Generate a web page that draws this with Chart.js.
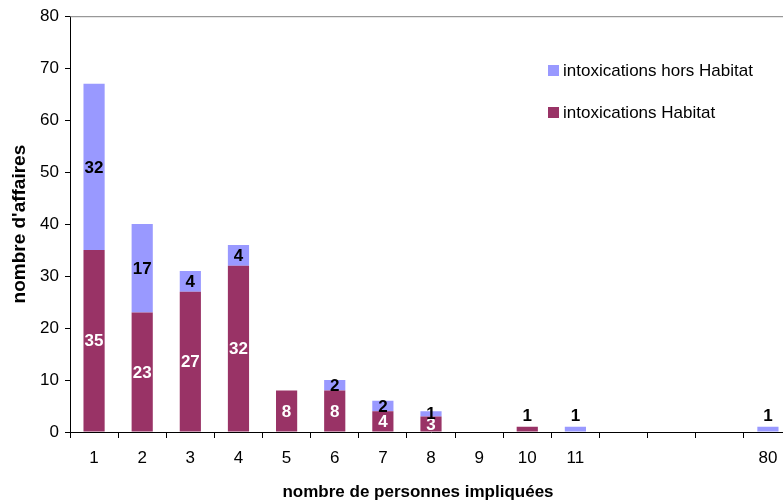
<!DOCTYPE html>
<html>
<head>
<meta charset="utf-8">
<script src="https://cdn.jsdelivr.net/npm/chart.js@4/dist/chart.umd.min.js"></script>
<style>
  html, body { margin: 0; padding: 0; background: #fff; overflow: hidden; }
  #wrap { width: 800px; height: 503px; position: relative; }
</style>
</head>
<body>
<div id="wrap"><canvas id="c"></canvas></div>
<script>
const categories = ['1', '2', '3', '4', '5', '6', '7', '8', '9', '10', '11', '', '', '', '80'];
const habitat = [35, 23, 27, 32, 8, 8, 4, 3, 0, 1, 0, 0, 0, 0, 0];
const horsHabitat = [32, 17, 4, 4, 0, 2, 2, 1, 0, 0, 1, 0, 0, 0, 1];
const yTicks = [0, 10, 20, 30, 40, 50, 60, 70, 80];
const xTitle = 'nombre de personnes impliquées';

const FONT = "'Liberation Sans', Arial, sans-serif";

// value labels + legend + x title + top border
const decorations = {
  id: 'decorations',
  afterDatasetsDraw(chart) {
    const ctx = chart.ctx;
    const zero = chart.scales.y.getPixelForValue(0);
    ctx.save();
    ctx.font = 'bold 17px ' + FONT;
    ctx.textAlign = 'center';
    ctx.textBaseline = 'middle';
    chart.data.datasets.forEach((ds, di) => {
      const meta = chart.getDatasetMeta(di);
      meta.data.forEach((bar, i) => {
        const v = ds.data[i];
        if (!v) return;
        const h = bar.base - bar.y;
        let y = (bar.y + bar.base) / 2;
        let color = ds.labelColor;
        if (h < 12) {
          y = Math.min(y, zero - 17);
          color = '#000';
        }
        ctx.fillStyle = color;
        ctx.fillText(String(v), bar.x, y + 1);
      });
    });

    // x axis title (sits a bit left of the plot centre in the original)
    ctx.fillStyle = '#000';
    ctx.font = 'bold 17px ' + FONT;
    ctx.fillText(xTitle, 418, 492);

    // legend
    ctx.font = '17px ' + FONT;
    ctx.textAlign = 'left';
    const items = [chart.data.datasets[1], chart.data.datasets[0]];
    items.forEach((ds, k) => {
      const y = 70 + k * 42;
      ctx.fillStyle = ds.backgroundColor;
      ctx.fillRect(548, y - 5, 11, 11);
      ctx.fillStyle = '#000';
      ctx.fillText(ds.label, 563, y + 1);
    });

    // top border of plot area
    const area = chart.chartArea;
    ctx.strokeStyle = '#808080';
    ctx.lineWidth = 1;
    ctx.beginPath();
    ctx.moveTo(area.left, area.top + 0.5);
    ctx.lineTo(chart.width, area.top + 0.5);
    ctx.stroke();
    ctx.restore();
  }
};

new Chart(document.getElementById('c'), {
  type: 'bar',
  data: {
    labels: categories,
    datasets: [
      {
        label: 'intoxications Habitat',
        data: habitat,
        backgroundColor: '#993366',
        labelColor: '#fff',
        barPercentage: 0.44,
        categoryPercentage: 1
      },
      {
        label: 'intoxications hors Habitat',
        data: horsHabitat,
        backgroundColor: '#9999FF',
        labelColor: '#000',
        barPercentage: 0.44,
        categoryPercentage: 1
      }
    ]
  },
  options: {
    responsive: true,
    maintainAspectRatio: false,
    animation: false,
    layout: { padding: { top: 14, right: 8, left: 0, bottom: 0 } },
    plugins: {
      legend: { display: false },
      tooltip: { enabled: false }
    },
    scales: {
      x: {
        stacked: true,
        offset: true,
        grid: {
          offset: true,
          drawOnChartArea: false,
          tickLength: 6,
          color: '#000'
        },
        border: { color: '#000', width: 1 },
        ticks: {
          color: '#000',
          font: { family: FONT, size: 17 },
          padding: 10,
          maxRotation: 0,
          autoSkip: false
        },
        afterFit(scale) { scale.height = 71; }
      },
      y: {
        stacked: true,
        min: 0,
        max: 80,
        afterBuildTicks(scale) { scale.ticks = yTicks.map(v => ({ value: v })); },
        grid: {
          drawOnChartArea: false,
          tickLength: 5,
          color: '#000'
        },
        border: { color: '#000', width: 1 },
        ticks: {
          color: '#000',
          font: { family: FONT, size: 17 },
          padding: 6
        },
        title: {
          display: true,
          text: "nombre d'affaires",
          color: '#000',
          font: { family: FONT, size: 19, weight: 'bold' },
          padding: { top: 8, bottom: 0 }
        },
        afterFit(scale) { scale.width = 70; }
      }
    }
  },
  plugins: [decorations]
});
</script>
</body>
</html>
